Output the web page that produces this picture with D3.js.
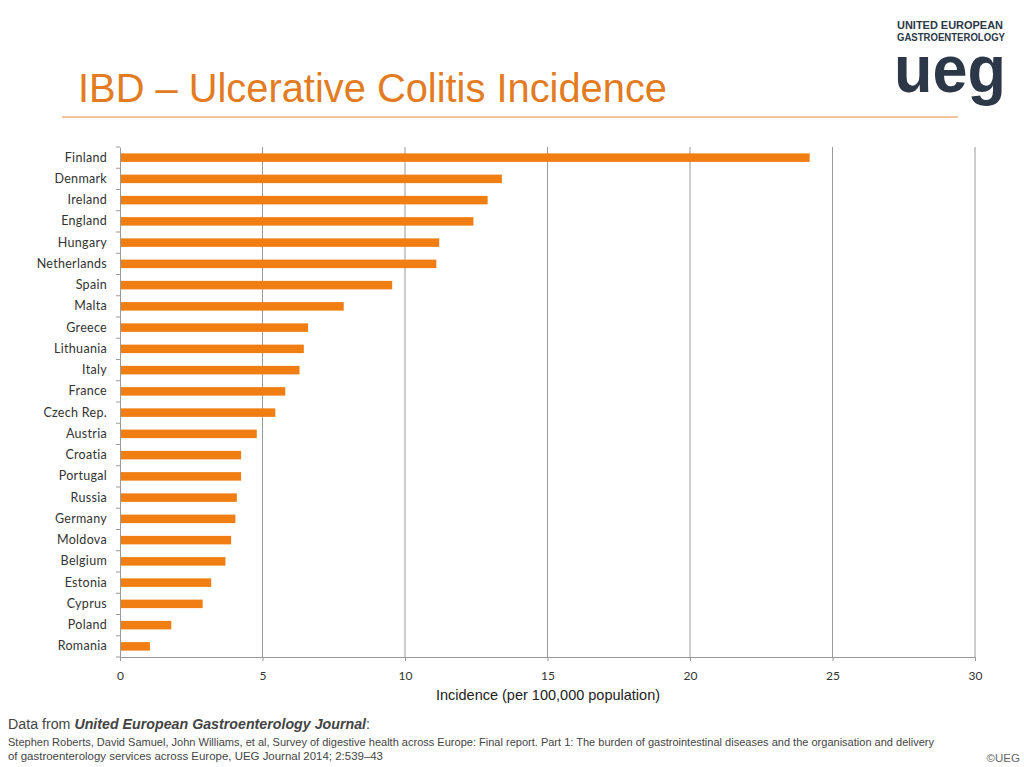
<!DOCTYPE html>
<html><head><meta charset="utf-8">
<script src="https://cdn.jsdelivr.net/npm/d3@7"></script>
<style>body{margin:0;background:#fff;}svg{display:block;}</style>
</head><body>
<svg id="chart" width="1024" height="767"></svg>
<script>
const countries = ["Finland","Denmark","Ireland","England","Hungary","Netherlands","Spain","Malta","Greece","Lithuania","Italy","France","Czech Rep.","Austria","Croatia","Portugal","Russia","Germany","Moldova","Belgium","Estonia","Cyprus","Poland","Romania"];
const incidence = [24.2,13.4,12.9,12.4,11.2,11.1,9.55,7.85,6.6,6.45,6.3,5.8,5.45,4.8,4.25,4.25,4.1,4.05,3.9,3.7,3.2,2.9,1.8,1.05];
const xTicks = [0,5,10,15,20,25,30];

(function(){
const svg = d3.select("#chart");
const pl = 120, pr = 975, pt = 147, pb = 657;
const x = d3.scaleLinear().domain([0,30]).range([pl,pr]);
const y = d3.scaleBand().domain(countries).range([pt,pb]).paddingInner(0.6).paddingOuter(0.3);

// title
svg.append("text").attr("x",78).attr("y",102).attr("font-family","Liberation Sans, Arial, sans-serif")
  .attr("font-size",40).attr("fill","#E27B22").attr("textLength",589).attr("lengthAdjust","spacingAndGlyphs")
  .text("IBD – Ulcerative Colitis Incidence");
svg.append("line").attr("x1",62).attr("x2",958).attr("y1",117).attr("y2",117).attr("stroke","#EFB07A").attr("stroke-width",1.5);

// logo
const logo = svg.append("g").attr("font-family","Liberation Sans, Arial, sans-serif").attr("fill","#2C3848");
logo.append("text").attr("x",897).attr("y",29).attr("font-size",10).attr("font-weight","bold").attr("textLength",106).attr("lengthAdjust","spacingAndGlyphs").text("UNITED EUROPEAN");
logo.append("text").attr("x",897).attr("y",41).attr("font-size",10).attr("font-weight","bold").attr("textLength",108).attr("lengthAdjust","spacingAndGlyphs").text("GASTROENTEROLOGY");
logo.append("text").attr("x",894).attr("y",92).attr("font-size",66).attr("font-weight","bold").attr("textLength",112).attr("lengthAdjust","spacingAndGlyphs").text("ueg");

// gridlines
svg.append("g").selectAll("line").data(xTicks.slice(1)).join("line")
  .attr("x1",d=>x(d)).attr("x2",d=>x(d)).attr("y1",pt).attr("y2",pb)
  .attr("stroke","#9a9a9a").attr("stroke-width",1);

// bars
svg.append("g").selectAll("rect").data(countries).join("rect")
  .attr("x",x(0)).attr("y",d=>y(d)).attr("height",y.bandwidth())
  .attr("width",(d,i)=>x(incidence[i])-x(0)).attr("fill","#F07E12");

// y axis
const ya = svg.append("g").attr("transform",`translate(${pl},0)`).call(d3.axisLeft(y).tickSize(0).tickPadding(13));
ya.select(".domain").attr("stroke","#9a9a9a");
ya.selectAll("text").attr("font-family","Lato, 'Open Sans', sans-serif").attr("font-size",12.5).attr("letter-spacing",0.3).attr("fill","#333");
const bounds = d3.range(countries.length+1).map(i=>pt+i*(pb-pt)/countries.length);
svg.append("g").selectAll("line").data(bounds).join("line")
  .attr("x1",pl-4).attr("x2",pl).attr("y1",d=>d).attr("y2",d=>d).attr("stroke","#9a9a9a");

// x axis
const xa = svg.append("g").attr("transform",`translate(0,${pb})`).call(d3.axisBottom(x).tickValues(xTicks).tickSize(4).tickPadding(10));
xa.select(".domain").attr("stroke","#9a9a9a");
xa.selectAll("line").attr("stroke","#9a9a9a");
xa.selectAll("text").attr("font-family","Lato, 'Open Sans', sans-serif").attr("font-size",12).attr("fill","#333");
svg.append("text").attr("x",548).attr("y",700).attr("text-anchor","middle").attr("font-family","Liberation Sans, Arial, sans-serif")
  .attr("font-size",14.5).attr("fill","#222").text("Incidence (per 100,000 population)");

// footer
const f = svg.append("g").attr("font-family","Liberation Sans, Arial, sans-serif").attr("fill","#444");
const t1 = f.append("text").attr("x",8).attr("y",729).attr("font-size",14).attr("textLength",362).attr("lengthAdjust","spacingAndGlyphs");
t1.append("tspan").text("Data from ");
t1.append("tspan").attr("font-style","italic").attr("font-weight","bold").text("United European Gastroenterology Journal");
t1.append("tspan").text(":");
f.append("text").attr("x",8).attr("y",746).attr("font-size",10.5).attr("textLength",926).attr("lengthAdjust","spacingAndGlyphs")
  .text("Stephen Roberts, David Samuel, John Williams, et al, Survey of digestive health across Europe: Final report. Part 1: The burden of gastrointestinal diseases and the organisation and delivery");
f.append("text").attr("x",8).attr("y",760).attr("font-size",10.5).attr("textLength",375).attr("lengthAdjust","spacingAndGlyphs")
  .text("of gastroenterology services across Europe, UEG Journal 2014; 2:539–43");
f.append("text").attr("x",1020).attr("y",762).attr("text-anchor","end").attr("font-size",11.5).attr("fill","#666").text("©UEG");
})();
</script>
</body></html>
